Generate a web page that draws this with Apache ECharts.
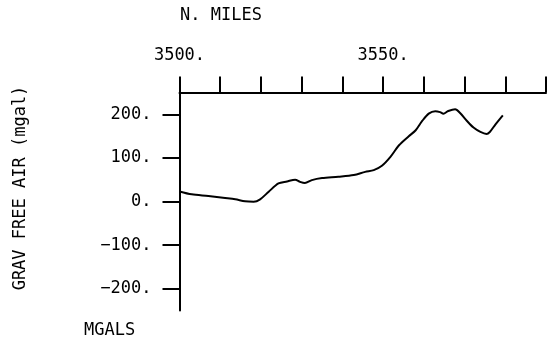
<!DOCTYPE html>
<html><head><meta charset="utf-8">
<script src="https://cdn.jsdelivr.net/npm/echarts@6/dist/echarts.min.js"></script>
<style>html,body{margin:0;padding:0;background:#fff}#c{width:550px;height:341px}</style>
</head><body><div id="c"></div>
<script>
const miles = [3500, 3503, 3507.1, 3511.2, 3513.7, 3516.1, 3518.2, 3519.8, 3521.9, 3524.3, 3526.4, 3528.4, 3529.6, 3530.8, 3532.5, 3535, 3539, 3542.8, 3545.6, 3547.7, 3549.7, 3551.8, 3553.9, 3556.3, 3558, 3559.6, 3561.2, 3562.8, 3564, 3564.8, 3566, 3567.7, 3568.9, 3570.6, 3572.2, 3573.9, 3575.4, 3576.2, 3577.6, 3579.4];
const gravity = [23, 16.4, 12.6, 8, 5, 0.5, -0.4, 5, 22.4, 41.6, 46, 50, 45, 42.3, 49, 53.7, 56.7, 60.6, 68, 72, 82, 102.5, 129, 149.7, 163.4, 184.7, 201.5, 207, 205, 201.5, 207.5, 211.4, 203, 184.7, 169.6, 159.5, 155, 159.5, 177, 197.7];
const xTicks = [3500, 3510, 3520, 3530, 3540, 3550, 3560, 3570, 3580, 3590];
const xLabels = [3500, 3550];
const yTicks = [-200, -100, 0, 100, 200];
const xTitle = 'N. MILES';
const yTitle = 'GRAV FREE AIR (mgal)';
const unitTitle = 'MGALS';

const FONT = '"DejaVu Sans Mono", monospace';
const chart = echarts.init(document.getElementById('c'));
const fmt = v => (v < 0 ? '\u2212' + Math.abs(v) : String(v)) + '.';
chart.setOption({
  animation: false,
  grid: {left: 179.5, right: 4, top: 92.5, bottom: 30.5},
  xAxis: {
    type: 'value', position: 'top', min: 3500, max: 3590,
    axisLine: {show: true, onZero: false, lineStyle: {color: '#000', width: 2}},
    axisTick: {show: true, inside: false, length: 16, lineStyle: {color: '#000', width: 2}, customValues: xTicks},
    axisLabel: {show: true, customValues: xLabels, formatter: fmt, margin: 28, color: '#000', fontFamily: FONT, fontSize: 17},
    splitLine: {show: false}
  },
  yAxis: {
    type: 'value', min: -250, max: 250,
    axisLine: {show: true, onZero: false, lineStyle: {color: '#000', width: 2}},
    axisTick: {show: true, inside: false, length: 17, lineStyle: {color: '#000', width: 2}, customValues: yTicks},
    axisLabel: {show: true, customValues: yTicks, formatter: fmt, margin: 28, color: '#000', fontFamily: FONT, fontSize: 17},
    splitLine: {show: false}
  },
  graphic: [
    {type: 'text', left: 180, top: 7, style: {text: xTitle, fill: '#000', font: '17px ' + FONT}},
    {type: 'text', left: 84, top: 322, style: {text: unitTitle, fill: '#000', font: '17px ' + FONT}},
    {type: 'text', x: 21, y: 188, rotation: Math.PI / 2, style: {text: yTitle, fill: '#000', font: '17px ' + FONT, align: 'center', verticalAlign: 'middle'}}
  ],
  series: [{
    type: 'line', data: miles.map((m, i) => [m, gravity[i]]),
    showSymbol: false, smooth: 0.3, lineStyle: {color: '#000', width: 2}
  }]
});
</script></body></html>
